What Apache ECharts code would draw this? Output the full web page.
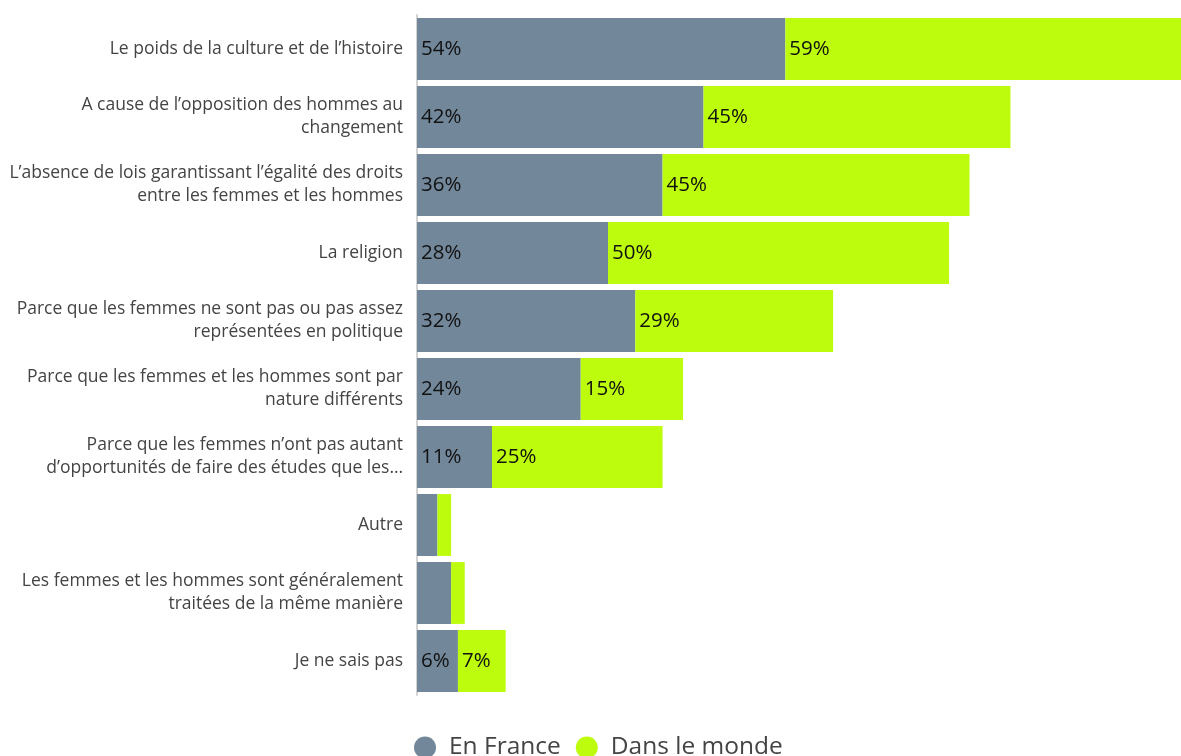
<!DOCTYPE html>
<html><head><meta charset="utf-8">
<script src="https://cdn.jsdelivr.net/npm/echarts@6/dist/echarts.min.js"></script>
<style>html,body{margin:0;padding:0;background:#fff}#c{width:1181px;height:756px}</style>
</head><body><div id="c"></div>
<script>
var categories = [
  "Le poids de la culture et de l\u2019histoire",
  "A cause de l\u2019opposition des hommes au\nchangement",
  "L\u2019absence de lois garantissant l\u2019\u00e9galit\u00e9 des droits\nentre les femmes et les hommes",
  "La religion",
  "Parce que les femmes ne sont pas ou pas assez\nrepr\u00e9sent\u00e9es en politique",
  "Parce que les femmes et les hommes sont par\nnature diff\u00e9rents",
  "Parce que les femmes n\u2019ont pas autant\nd\u2019opportunit\u00e9s de faire des \u00e9tudes que les\u2026",
  "Autre",
  "Les femmes et les hommes sont g\u00e9n\u00e9ralement\ntrait\u00e9es de la m\u00eame mani\u00e8re",
  "Je ne sais pas"
];
var seriesNames = ["En France", "Dans le monde"];
var enFrance = [54, 42, 36, 28, 32, 24, 11, 3, 5, 6];
var dansLeMonde = [59, 45, 45, 50, 29, 15, 25, 2, 2, 7];
var colors = ["#728799", "#bdfc0d"];

var chart = echarts.init(document.getElementById('c'));
function lbl(p){ return p.value >= 6 ? p.value + '%' : ''; }
chart.setOption({
  animation: false,
  textStyle: { fontFamily: "Open Sans" },
  grid: { left: 417, right: 0, top: 15, bottom: 61, containLabel: false },
  legend: {
    bottom: -9, left: 409,
    icon: 'circle', itemWidth: 22, itemHeight: 22, itemGap: 15,
    textStyle: { fontSize: 24.5, color: '#444', fontFamily: 'Open Sans', padding: [0, 0, 0, 8] },
    data: seriesNames
  },
  xAxis: { type: 'value', min: 0, max: 112, show: false },
  yAxis: {
    type: 'category', inverse: true, data: categories,
    axisLine: { lineStyle: { color: '#d3d3d3', width: 2 } },
    axisTick: { show: false },
    axisLabel: { fontSize: 17.5, color: '#444', lineHeight: 23, margin: 14, fontFamily: 'Open Sans' }
  },
  series: [
    { name: seriesNames[0], type: 'bar', stack: 's', data: enFrance, barCategoryGap: '9%',
      itemStyle: { color: colors[0] },
      label: { show: true, position: 'insideLeft', distance: 4, formatter: lbl, color: '#111', fontSize: 20.5, fontFamily: 'Open Sans' } },
    { name: seriesNames[1], type: 'bar', stack: 's', data: dansLeMonde, barCategoryGap: '9%',
      itemStyle: { color: colors[1] },
      label: { show: true, position: 'insideLeft', distance: 4, formatter: lbl, color: '#111', fontSize: 20.5, fontFamily: 'Open Sans' } }
  ]
});
</script></body></html>
